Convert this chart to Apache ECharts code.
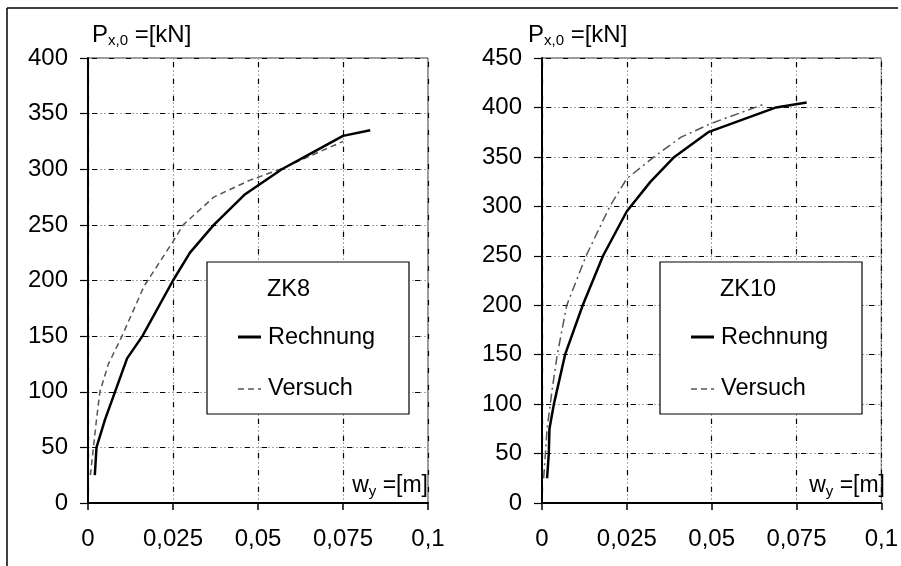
<!DOCTYPE html>
<html>
<head>
<meta charset="utf-8">
<script src="https://cdn.jsdelivr.net/npm/echarts@6/dist/echarts.min.js"></script>
<style>
html,body{margin:0;padding:0;background:#fff;}
#c{width:901px;height:566px;}
</style>
</head>
<body>
<div id="c"></div>
<script>
// ---- data ----
const xTicks = [0, 0.025, 0.05, 0.075, 0.1];
const leftYMax = 400;
const rightYMax = 450;
const leftTitle = 'ZK8';
const rightTitle = 'ZK10';
const seriesNames = ['Rechnung', 'Versuch'];

const zk8Rechnung = [[0.002,25],[0.0025,50],[0.005,75],[0.0115,130],[0.016,150],[0.025,200],[0.03,225],[0.037,250],[0.046,277],[0.057,300],[0.066,315],[0.075,330],[0.083,335]];
const zk8Versuch = [[0.0007,25],[0.0025,75],[0.0035,100],[0.006,125],[0.01,150],[0.0165,195],[0.025,235],[0.028,250],[0.037,275],[0.0475,290],[0.0565,300],[0.075,325]];
const zk10Rechnung = [[0.0015,25],[0.002,50],[0.0022,75],[0.0035,100],[0.0068,150],[0.012,200],[0.018,250],[0.025,295],[0.032,325],[0.039,350],[0.049,375],[0.069,400],[0.078,405]];
const zk10Versuch = [[0.0005,25],[0.0015,75],[0.003,115],[0.0045,150],[0.0073,200],[0.013,250],[0.02,300],[0.025,328],[0.033,350],[0.041,370],[0.05,384],[0.066,404]];

// ---- chart ----
const FONT = '"Liberation Sans", Arial, sans-serif';
const chart = echarts.init(document.getElementById('c'), null, {renderer:'canvas'});

function fmtX(v){
  const m = {0:'0',0.025:'0,025',0.05:'0,05',0.075:'0,075',0.1:'0,1'};
  const k = Math.round(v*1000)/1000;
  return m[k] !== undefined ? m[k] : String(v).replace('.',',');
}

function mainX(g){
  return {
    type:'value', gridIndex:g, min:xTicks[0], max:xTicks[xTicks.length-1], interval:0.025,
    position:'bottom',
    axisLine:{show:true, onZero:false, lineStyle:{color:'#000', width:2}},
    axisTick:{show:true, inside:false, length:7, lineStyle:{color:'#000', width:1.5}},
    axisLabel:{show:true, margin:24, color:'#000', fontSize:24, fontFamily:FONT, formatter:fmtX},
    splitLine:{show:true, lineStyle:{color:'#a8a8a8', width:1, type:[2,2]}}
  };
}
function overlayX(g){
  return {
    type:'value', gridIndex:g, min:xTicks[0], max:xTicks[xTicks.length-1], interval:0.025,
    position:'top',
    axisLine:{show:false}, axisTick:{show:false}, axisLabel:{show:false},
    splitLine:{show:true, lineStyle:{color:'#000', width:1.2, type:[5,12], dashOffset:-4}}
  };
}
function mainY(g, max){
  return {
    type:'value', gridIndex:g, min:0, max:max, interval:50,
    position:'left',
    axisLine:{show:true, onZero:false, lineStyle:{color:'#000', width:2}},
    axisTick:{show:true, inside:false, length:8, lineStyle:{color:'#000', width:1.2}},
    axisLabel:{show:true, margin:20, color:'#000', fontSize:24, fontFamily:FONT},
    splitLine:{show:true, lineStyle:{color:'#a8a8a8', width:1, type:[2,2]}}
  };
}
function overlayY(g, max){
  return {
    type:'value', gridIndex:g, min:0, max:max, interval:50,
    position:'right',
    axisLine:{show:false}, axisTick:{show:false}, axisLabel:{show:false},
    splitLine:{show:true, lineStyle:{color:'#000', width:1.2, type:[5,12], dashOffset:-4}}
  };
}

const grids = [
  {left:88, top:58, width:340, height:445},
  {left:542, top:58, width:343, height:445}
];

function legendBox(x0, title){
  const y0 = 262, w = 202, h = 152;
  const f = '23.5px ' + FONT;
  return [
    {type:'rect', shape:{x:x0, y:y0, width:w, height:h}, style:{fill:'#fff', stroke:'#000', lineWidth:1.2}, z:100},
    {type:'text', x:x0+60, y:290, style:{text:title, font:f, fill:'#000', verticalAlign:'middle'}, z:101},
    {type:'line', shape:{x1:x0+31, y1:337, x2:x0+54, y2:337}, style:{stroke:'#000', lineWidth:3}, z:101},
    {type:'text', x:x0+61, y:338, style:{text:seriesNames[0], font:f, fill:'#000', verticalAlign:'middle'}, z:101},
    {type:'line', shape:{x1:x0+31, y1:389, x2:x0+54, y2:389}, style:{stroke:'#555', lineWidth:1.5, lineDash:[6,4]}, z:101},
    {type:'text', x:x0+61, y:389, style:{text:seriesNames[1], font:f, fill:'#000', verticalAlign:'middle'}, z:101}
  ];
}

function yTitle(x){
  return {type:'text', x:x, y:35, z:50, style:{
    text:'{p|P}{s|x,0}{p| =[kN]}', verticalAlign:'middle',
    rich:{p:{fontSize:24, fontFamily:FONT, color:'#000', fill:'#000'}, s:{fontSize:15, fontFamily:FONT, color:'#000', fill:'#000', padding:[11,0,0,0]}}
  }};
}
function xTitle(xr){
  return {type:'text', x:xr, y:486, z:50, style:{
    text:'{p|w}{s|y}{p| =[m]}', align:'right', verticalAlign:'middle',
    rich:{p:{fontSize:23, fontFamily:FONT, color:'#000', fill:'#000'}, s:{fontSize:15, fontFamily:FONT, color:'#000', fill:'#000', padding:[11,0,0,0]}}
  }};
}

const option = {
  backgroundColor:'#fff',
  animation:false,
  grid: grids.map(g => Object.assign({show:true, borderColor:'#333', borderWidth:1, backgroundColor:'transparent'}, g)),
  xAxis:[mainX(0), overlayX(0), mainX(1), overlayX(1)],
  yAxis:[mainY(0, leftYMax), overlayY(0, leftYMax), mainY(1, rightYMax), overlayY(1, rightYMax)],
  series:[
    {name:'ZK8 '+seriesNames[1], type:'line', xAxisIndex:0, yAxisIndex:0, data:zk8Versuch, showSymbol:false, z:3,
     lineStyle:{color:'#555', width:1.5, type:[6,4]}},
    {name:'ZK8 '+seriesNames[0], type:'line', xAxisIndex:0, yAxisIndex:0, data:zk8Rechnung, showSymbol:false, z:4,
     lineStyle:{color:'#000', width:2.5}},
    {name:'ZK10 '+seriesNames[1], type:'line', xAxisIndex:2, yAxisIndex:2, data:zk10Versuch, showSymbol:false, z:3,
     lineStyle:{color:'#555', width:1.5, type:[9,4,2,4]}},
    {name:'ZK10 '+seriesNames[0], type:'line', xAxisIndex:2, yAxisIndex:2, data:zk10Rechnung, showSymbol:false, z:4,
     lineStyle:{color:'#000', width:2.5}}
  ],
  graphic:[
    {type:'line', shape:{x1:7, y1:8, x2:898, y2:8}, style:{stroke:'#000', lineWidth:1.5}},
    {type:'line', shape:{x1:7, y1:8, x2:7, y2:566}, style:{stroke:'#000', lineWidth:1.5}},
    yTitle(92), yTitle(528),
    xTitle(428), xTitle(885)
  ].concat(legendBox(207, leftTitle), legendBox(660, rightTitle))
};
chart.setOption(option);
</script>
</body>
</html>
